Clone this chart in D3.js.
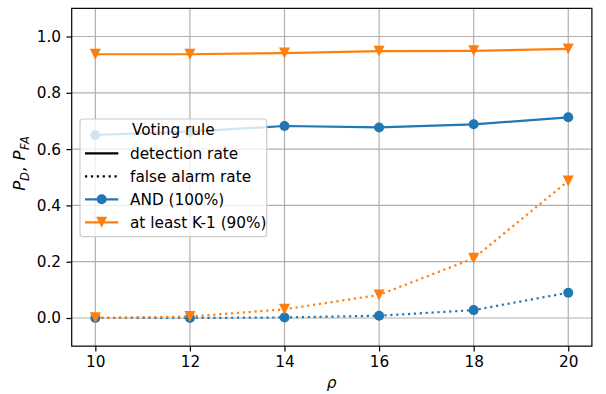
<!DOCTYPE html>
<html>
<head>
<meta charset="utf-8">
<script src="https://cdn.jsdelivr.net/npm/d3@7"></script>
<style>
  html, body { margin: 0; padding: 0; background: #fff; }
  svg text { font-family: "DejaVu Sans", sans-serif; fill: #000; }
</style>
</head>
<body>
<svg id="chart" width="606" height="394"></svg>
<script>
// Detection / false-alarm probability versus rho for two voting rules
const rho = [10, 12, 14, 16, 18, 20];
const pdAnd = [0.650, 0.662, 0.682, 0.677, 0.688, 0.713];
const pfaAnd = [0.000, 0.000, 0.002, 0.008, 0.028, 0.090];
const pdK1 = [0.937, 0.937, 0.941, 0.948, 0.949, 0.956];
const pfaK1 = [0.001, 0.005, 0.031, 0.082, 0.212, 0.487];
const xTicks = [10, 12, 14, 16, 18, 20];
const yTicks = [0.0, 0.2, 0.4, 0.6, 0.8, 1.0];
const legendTitle = "Voting rule";
const legendLabels = ["detection rate", "false alarm rate", "AND (100%)", "at least K-1 (90%)"];

const BLUE = "#1f77b4", ORANGE = "#ff7f0e";
const FS = 15.3;
const LW = 2.2;

const svg = d3.select("#chart");
const plotLeft = 71.7, plotRight = 591.9, plotTop = 8.35, plotBottom = 346.15;

const x = d3.scaleLinear().domain([9.5, 20.5]).range([plotLeft, plotRight]);
const y = d3.scaleLinear().domain([-0.1, 1.1]).range([plotBottom, plotTop]);

// grid
const grid = svg.append("g");
grid.selectAll("line.gx").data(xTicks).join("line")
  .attr("x1", d => x(d)).attr("x2", d => x(d))
  .attr("y1", plotTop).attr("y2", plotBottom)
  .attr("stroke", "#b0b0b0").attr("stroke-width", 1.2);
grid.selectAll("line.gy").data(yTicks).join("line")
  .attr("x1", plotLeft).attr("x2", plotRight)
  .attr("y1", d => y(d)).attr("y2", d => y(d))
  .attr("stroke", "#b0b0b0").attr("stroke-width", 1.2);

// axes
const xAxis = d3.axisBottom(x).tickValues(xTicks).tickSize(5.3).tickPadding(5.0).tickFormat(d3.format("d"));
const yAxis = d3.axisLeft(y).tickValues(yTicks).tickSize(5.3).tickPadding(5.3).tickFormat(d3.format(".1f"));

const gx = svg.append("g").attr("transform", `translate(0,${plotBottom})`).call(xAxis);
const gy = svg.append("g").attr("transform", `translate(${plotLeft},0)`).call(yAxis);
[gx, gy].forEach(g => {
  g.select(".domain").remove();
  g.selectAll(".tick line").attr("stroke", "#000").attr("stroke-width", 1.2);
  g.selectAll(".tick text").attr("font-size", FS).attr("font-family", "DejaVu Sans").attr("fill", "#000");
});

// series
const series = [
  { vals: pdAnd, color: BLUE, dotted: false, marker: "circle" },
  { vals: pfaAnd, color: BLUE, dotted: true, marker: "circle" },
  { vals: pdK1, color: ORANGE, dotted: false, marker: "tri" },
  { vals: pfaK1, color: ORANGE, dotted: true, marker: "tri" }
];
const line = d3.line().x(d => x(d[0])).y(d => y(d[1]));
const circleSym = d3.symbol().type(d3.symbolCircle).size(Math.PI * 5 * 5);
const triPath = s => `M0,${s}L${-s},${-s}L${s},${-s}Z`;

const plot = svg.append("g");
series.forEach(s => {
  const pts = rho.map((r, i) => [r, s.vals[i]]);
  plot.append("path").datum(pts)
    .attr("d", line).attr("fill", "none")
    .attr("stroke", s.color).attr("stroke-width", LW)
    .attr("stroke-dasharray", s.dotted ? "2.2,3.7" : null);
  plot.selectAll(null).data(pts).join("path")
    .attr("transform", d => `translate(${x(d[0])},${y(d[1])})`)
    .attr("d", s.marker === "circle" ? circleSym() : triPath(5.5))
    .attr("fill", s.color);
});

// frame
svg.append("rect").attr("x", plotLeft).attr("y", plotTop)
  .attr("width", plotRight - plotLeft).attr("height", plotBottom - plotTop)
  .attr("fill", "none").attr("stroke", "#000").attr("stroke-width", 1.2);

// axis labels
svg.append("text").attr("x", 331.7).attr("y", 388)
  .attr("text-anchor", "middle").attr("font-size", FS)
  .attr("font-style", "italic").text("ρ");

const YFS = 16.5;
const yl = svg.append("text")
  .attr("transform", "translate(25,163.5) rotate(-90)")
  .attr("text-anchor", "middle").attr("font-size", YFS);
yl.append("tspan").attr("font-style", "italic").text("P");
yl.append("tspan").attr("font-style", "italic").attr("font-size", YFS * 0.7).attr("dy", 3.8).text("D");
yl.append("tspan").attr("dy", -3.8).text(", ");
yl.append("tspan").attr("font-style", "italic").attr("dx", 1).text("P");
yl.append("tspan").attr("font-style", "italic").attr("font-size", YFS * 0.7).attr("dy", 3.8).attr("dx", 0.5).text("FA");

// legend
const lg = svg.append("g");
lg.append("rect").attr("x", 80).attr("y", 119)
  .attr("width", 186.7).attr("height", 117.7).attr("rx", 3)
  .attr("fill", "rgba(255,255,255,0.8)").attr("stroke", "#cccccc").attr("stroke-width", 1.2);
lg.append("text").attr("x", 173.3).attr("y", 134.5)
  .attr("text-anchor", "middle").attr("font-size", FS).text(legendTitle);

const handles = [
  { color: "#000", dotted: false, marker: null },
  { color: "#000", dotted: true, marker: null },
  { color: BLUE, dotted: false, marker: "circle" },
  { color: ORANGE, dotted: false, marker: "tri" }
];
legendLabels.forEach((lab, i) => {
  const base = 159 + i * 23;
  const ly = base - 5.7;
  const h = handles[i];
  lg.append("line").attr("x1", 85).attr("x2", 118.3).attr("y1", ly).attr("y2", ly)
    .attr("stroke", h.color).attr("stroke-width", LW)
    .attr("stroke-dasharray", h.dotted ? "2.2,3.7" : null);
  if (h.marker) {
    lg.append("path").attr("transform", `translate(101.7,${ly})`)
      .attr("d", h.marker === "circle" ? circleSym() : triPath(5.5))
      .attr("fill", h.color);
  }
  lg.append("text").attr("x", 130).attr("y", base).attr("font-size", FS).text(lab);
});
</script>
</body>
</html>
